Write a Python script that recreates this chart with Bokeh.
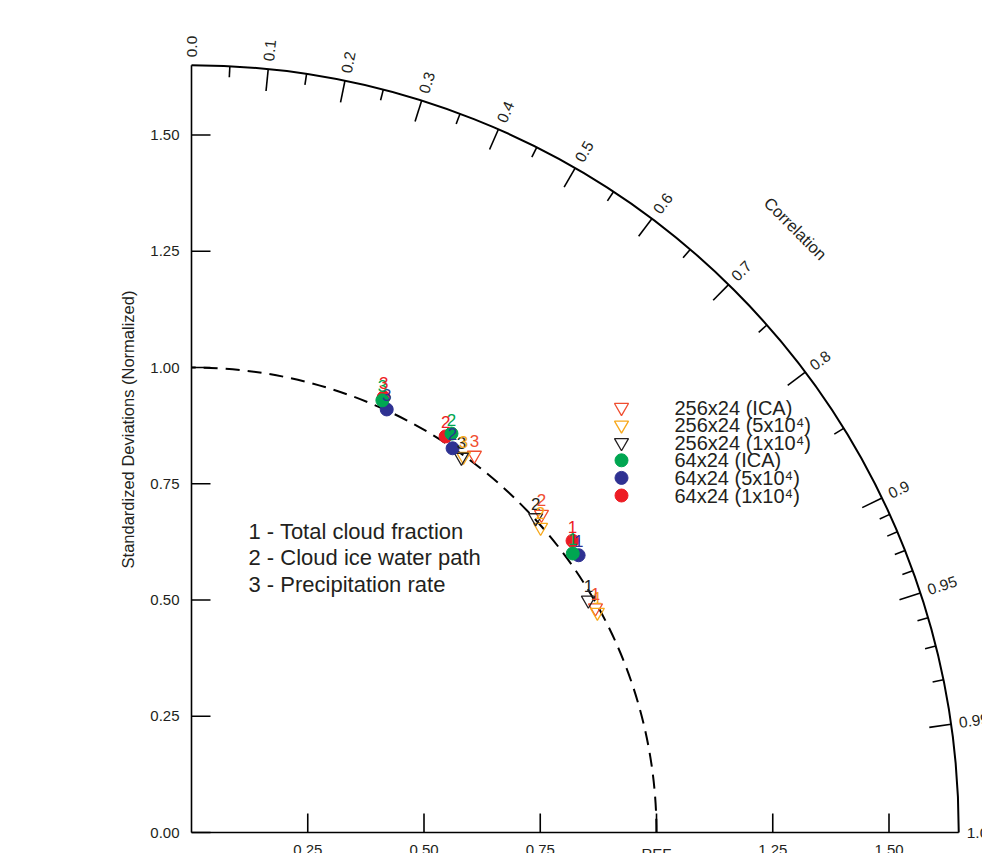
import numpy as np
from bokeh.plotting import figure
from bokeh.models import Range1d, ColumnDataSource
from bokeh.core.properties import value
from bokeh.embed import file_html
from bokeh.resources import INLINE

FONT = value("Liberation Sans")

# ---------------- data ----------------
var_labels = ["1", "2", "3"]
var_names = ["1 - Total cloud fraction", "2 - Cloud ice water path", "3 - Precipitation rate"]

series_names = ["256x24 (ICA)", "256x24 (5x10\u2074)", "256x24 (1x10\u2074)",
                "64x24 (ICA)", "64x24 (5x10\u2074)", "64x24 (1x10\u2074)"]
series_markers = ["inverted_triangle", "inverted_triangle", "inverted_triangle",
                  "circle", "circle", "circle"]
series_colors = ["#F04E30", "#F7A81B", "#231F20", "#00A651", "#2E3192", "#ED1C24"]

# normalized standard deviation, per variable 1,2,3
std_256_ica = [0.994, 1.017, 1.014]
std_256_5e4 = [0.993, 0.997, 0.998]
std_256_1e4 = [0.989, 1.003, 0.994]
std_64_ica = [1.016, 1.024, 1.016]
std_64_5e4 = [1.024, 0.999, 1.002]
std_64_1e4 = [1.032, 1.012, 1.023]
# correlation, per variable 1,2,3
corr_256_ica = [0.874, 0.740, 0.600]
corr_256_5e4 = [0.879, 0.753, 0.586]
corr_256_1e4 = [0.863, 0.738, 0.584]
corr_64_ica = [0.807, 0.546, 0.404]
corr_64_5e4 = [0.813, 0.562, 0.419]
corr_64_1e4 = [0.794, 0.540, 0.404]

series_std = [std_256_ica, std_256_5e4, std_256_1e4, std_64_ica, std_64_5e4, std_64_1e4]
series_corr = [corr_256_ica, corr_256_5e4, corr_256_1e4, corr_64_ica, corr_64_5e4, corr_64_1e4]

# axes
std_max = 1.65
std_ticks = [0.0, 0.25, 0.50, 0.75, 1.00, 1.25, 1.50]
std_tick_labels = ["0.00", "0.25", "0.50", "0.75", "1.00", "1.25", "1.50"]
x_ticks = [0.25, 0.50, 0.75, 1.00, 1.25, 1.50]
x_tick_labels = ["0.25", "0.50", "0.75", "REF", "1.25", "1.50"]
corr_major = [0.0, 0.1, 0.2, 0.3, 0.4, 0.5, 0.6, 0.7, 0.8, 0.9, 0.95, 0.99, 1.0]
corr_major_labels = ["0.0", "0.1", "0.2", "0.3", "0.4", "0.5", "0.6", "0.7", "0.8",
                     "0.9", "0.95", "0.99", "1.0"]
corr_minor = [0.05, 0.15, 0.25, 0.35, 0.45, 0.55, 0.65, 0.75, 0.85,
              0.91, 0.92, 0.93, 0.94, 0.96, 0.97, 0.98]

# ---------------- figure ----------------
W, H = 982, 853
PX = 465.0            # pixels per unit
ox, oy = 191, 832     # origin in pixels
p = figure(width=W, height=H, output_backend="svg", toolbar_location=None,
           x_range=Range1d(-ox / PX, (W - ox) / PX),
           y_range=Range1d(-(H - oy) / PX, oy / PX),
           x_axis_location=None, y_axis_location=None,
           min_border=0, outline_line_color=None)
p.grid.visible = False
p.background_fill_color = "white"
p.border_fill_color = "white"

txt_color = "#231F20"

# outer arc and axes lines
p.arc(x=0, y=0, radius=std_max, start_angle=0, end_angle=np.pi / 2,
      line_color="black", line_width=2)
p.segment(x0=[0, 0], y0=[0, 0], x1=[0, std_max], y1=[std_max, 0],
          line_color="black", line_width=1.6)

# reference dashed arc
p.arc(x=0, y=0, radius=1.0, start_angle=0, end_angle=np.pi / 2,
      line_color="black", line_width=2, line_dash="14 8")

# left axis ticks + labels
st = np.array(std_ticks)
tl = 19 / PX
p.segment(x0=np.zeros_like(st), y0=st, x1=np.zeros_like(st) + tl, y1=st,
          line_color="black", line_width=1.6)
p.text(x=np.zeros_like(st) - 12 / PX, y=st, text=std_tick_labels,
       text_font=FONT, text_font_size="15px", text_align="right",
       text_baseline="middle", text_color=txt_color)
p.text(x=[-64 / PX], y=[(832 - 429) / PX], text=["Standardized Deviations (Normalized)"],
       angle=np.pi / 2, text_font=FONT, text_font_size="16.5px",
       text_align="center", text_baseline="middle", text_color=txt_color)

# bottom axis ticks + labels
xt = np.array(x_ticks)
p.segment(x0=xt, y0=np.zeros_like(xt), x1=xt, y1=np.zeros_like(xt) + tl,
          line_color="black", line_width=1.6)
p.text(x=xt, y=np.zeros_like(xt) - 12 / PX, text=x_tick_labels,
       text_font=FONT, text_font_size="15px", text_align="center",
       text_baseline="top", text_color=txt_color)

# correlation ticks
cm = np.array(corr_major)
th = np.arccos(cm)
inner = np.array([c not in (0.0, 1.0) for c in corr_major])
Lmaj = 22 / PX
p.segment(x0=(std_max * np.cos(th))[inner], y0=(std_max * np.sin(th))[inner],
          x1=((std_max - Lmaj) * np.cos(th))[inner], y1=((std_max - Lmaj) * np.sin(th))[inner],
          line_color="black", line_width=1.6)
cmi = np.array(corr_minor)
thm = np.arccos(cmi)
Lmin = 11 / PX
p.segment(x0=std_max * np.cos(thm), y0=std_max * np.sin(thm),
          x1=(std_max - Lmin) * np.cos(thm), y1=(std_max - Lmin) * np.sin(thm),
          line_color="black", line_width=1.6)
rl = std_max + 8 / PX
p.text(x=rl * np.cos(th), y=rl * np.sin(th), text=corr_major_labels, angle=th,
       text_font=FONT, text_font_size="15.5px", text_align="left",
       text_baseline="middle", text_color=txt_color)
p.text(x=[1.299], y=[1.299], text=["Correlation"], angle=-np.pi / 4,
       text_font=FONT, text_font_size="16.5px", text_align="center",
       text_baseline="middle", text_color=txt_color)

# variable names
p.text(x=[57 / PX] * 3, y=[(832 - 531) / PX, (832 - 557) / PX, (832 - 584) / PX],
       text=var_names, text_font=FONT, text_font_size="22px", text_align="left",
       text_baseline="middle", text_color=txt_color)

# legend (drawn manually for tight row spacing)
leg_x_marker = (621 - ox) / PX
leg_x_text = (674 - ox) / PX
leg_y0 = (oy - 407) / PX
leg_dy = 17.6 / PX

sources = []
for i, (name, mk, col, sd, cr) in enumerate(zip(series_names, series_markers, series_colors,
                                                 series_std, series_corr)):
    sd = np.array(sd)
    cr = np.array(cr)
    sources.append(ColumnDataSource(dict(x=sd * cr, y=sd * np.sqrt(1 - cr ** 2), lab=var_labels)))
    ly = leg_y0 - i * leg_dy
    if mk == "circle":
        p.scatter([leg_x_marker], [ly], marker="circle", size=13,
                  fill_color=col, line_color=col)
    else:
        p.scatter([leg_x_marker], [ly], marker="inverted_triangle", size=14,
                  fill_color=None, line_color=col, line_width=1.3)
    p.text([leg_x_text], [ly], text=[name], text_font=FONT, text_font_size="20px",
           text_align="left", text_baseline="middle", text_color=txt_color)

# data markers: triangles first, then circles (1x10^4, 5x10^4, ICA on top)
draw_order = [0, 1, 2, 5, 4, 3]
for i in draw_order:
    mk, col, src = series_markers[i], series_colors[i], sources[i]
    if mk == "circle":
        p.scatter("x", "y", source=src, marker="circle", size=13,
                  fill_color=col, line_color=col)
    else:
        p.scatter("x", "y", source=src, marker="inverted_triangle", size=14,
                  fill_color=None, line_color=col, line_width=1.3)
for i in [4, 3, 2, 1, 0, 5]:
    p.text("x", "y", text="lab", source=sources[i], y_offset=-14, text_color=series_colors[i],
           text_font=FONT, text_font_size="17px", text_align="center",
           text_baseline="middle")

open("out.html", "w").write(file_html(p, INLINE))
